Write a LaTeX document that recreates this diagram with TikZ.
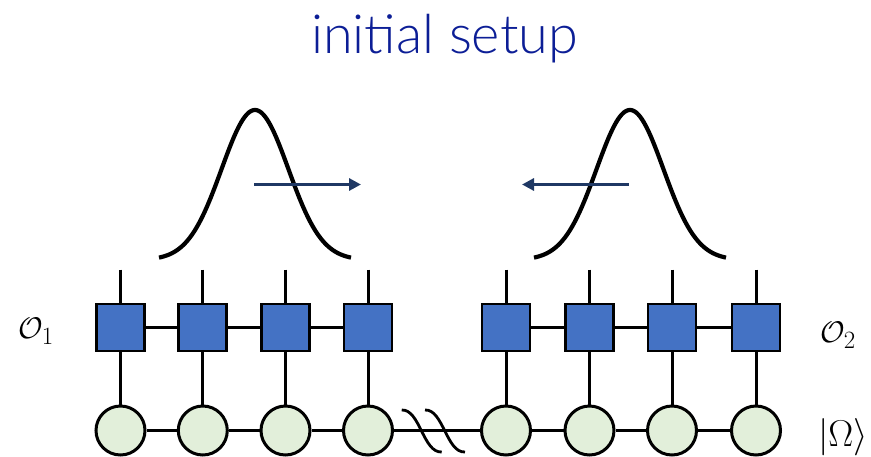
\documentclass[tikz,border=0pt]{standalone}
\usepackage{graphicx}
\usepackage{fontspec}
\usetikzlibrary{arrows.meta}
\IfFontExistsTF{Lato Light}{\newfontfamily\titlefont{Lato Light}}{\newfontfamily\titlefont{Lato}}
\definecolor{titleblue}{RGB}{12,30,150}
\definecolor{tensorblue}{RGB}{68,114,196}
\definecolor{vacgreen}{RGB}{226,239,218}
\definecolor{arrownavy}{RGB}{31,56,100}
% large math label: the math fonts stop at 24.88pt, so scale beyond that
\newcommand{\biglabel}[2][1.2]{\scalebox{#1}{\fontsize{24.88}{30}\selectfont$#2$}}

\begin{document}
\begin{tikzpicture}[x=1pt,y=-1pt,
  opbox/.style={draw=black,fill=tensorblue,line width=2.9pt,minimum width=48pt,minimum height=47pt,inner sep=0pt},
  site/.style={circle,draw=black,fill=vacgreen,line width=3pt,minimum size=49pt,inner sep=0pt},
  bond/.style={line width=3pt},
  packet/.style={line width=4.2pt},
  motion/.style={draw=arrownavy,line width=3pt,-{Triangle[length=12pt,width=12pt]}},
  brk/.style={line width=2.8pt},
  lbl/.style={inner sep=0pt}
]
\useasboundingbox (0,0) rectangle (871,456);

% title
\node[font=\titlefont\fontsize{54}{60}\selectfont, text=titleblue, anchor=base] (title) at (444.5,53) {initial setup};

% wave packets
\draw[packet] plot[domain=-96:96, samples=120, smooth] ({255+\x}, {260-150*exp(-\x*\x/2231)});
\draw[packet] plot[domain=-96:96, samples=120, smooth] ({630+\x}, {260-150*exp(-\x*\x/2231)});

% propagation arrows
\coordinate (a1s) at (254,184.5);
\coordinate (a1e) at (361,184.5);
\coordinate (a2s) at (628.5,184.5);
\coordinate (a2e) at (522,184.5);
\draw[motion] (a1s) -- (a1e);
\draw[motion] (a2s) -- (a2e);

% operator tensors and vacuum sites
\foreach \i/\x in {1/120.5,2/202.8,3/285.5,4/368,5/506,6/589.5,7/672,8/756}{
  \node[opbox] (o\i) at (\x,327.5) {};
  \node[site] (s\i) at (\x,430.5) {};
  \coordinate (t\i) at (\x,269.5);
  \draw[bond] (t\i) -- (o\i.north);
  \draw[bond] (o\i) -- (s\i);
}
\foreach \a/\b in {1/2,2/3,3/4,5/6,6/7,7/8}{
  \draw[bond] (o\a) -- (o\b);
}
\foreach \a/\b in {1/2,2/3,3/4,4/5,5/6,6/7,7/8}{
  \draw[bond] (s\a) -- (s\b);
}

% break marks on the long bond
\draw[brk] (401.7,410) .. controls (420,409) and (423,453) .. (441.7,452);
\draw[brk] (425,410) .. controls (443.3,409) and (446.3,453) .. (465,452);

% labels
\node[lbl] (lab1) at (36,331) {\biglabel{\mathcal{O}_1}};
\node[lbl] (lab2) at (838,335) {\biglabel{\mathcal{O}_2}};
\node[lbl] (lab3) at (843,437) {\biglabel[1.5]{|\Omega\rangle}};
\end{tikzpicture}
\end{document}
